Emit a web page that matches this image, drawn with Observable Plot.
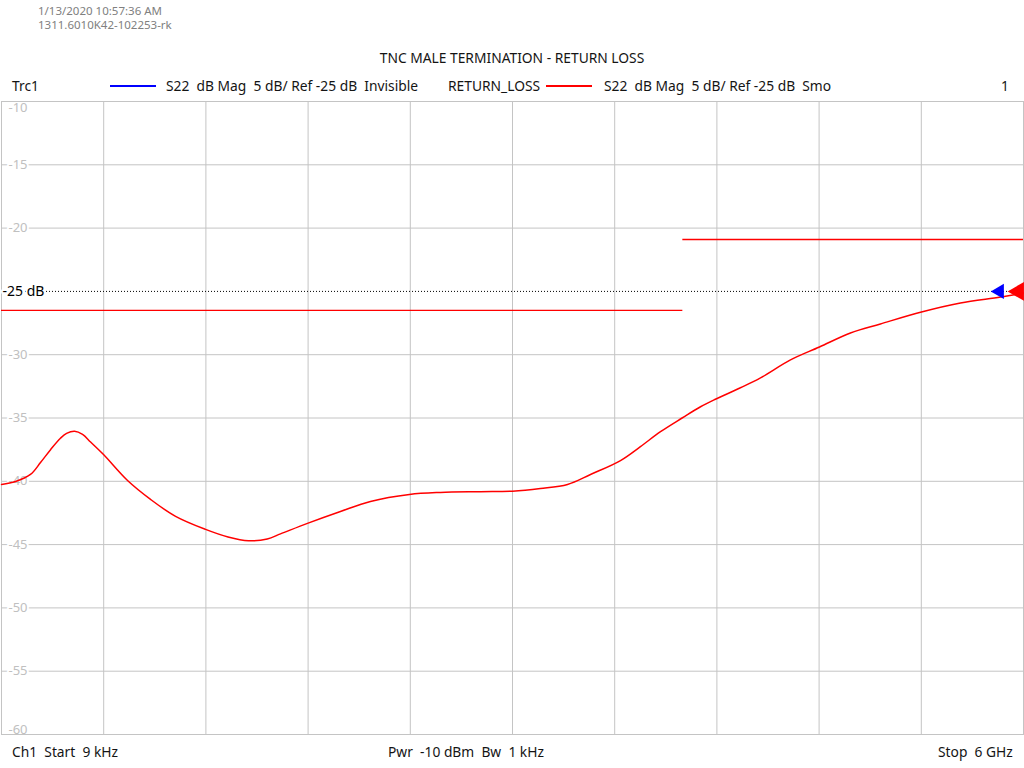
<!DOCTYPE html>
<html>
<head>
<meta charset="utf-8">
<script src="https://cdn.jsdelivr.net/npm/d3@7"></script>
<script src="https://cdn.jsdelivr.net/npm/@observablehq/plot@0.6"></script>
<style>
  html, body { margin: 0; padding: 0; background: #fff; }
  body { width: 1024px; height: 768px; position: relative; overflow: hidden;
         font-family: "Noto Sans", "Open Sans", sans-serif; color: #141414; }
  .t { position: absolute; white-space: pre; line-height: 16px; font-size: 13.8px; }
  .small { font-size: 11.5px; color: #808080; line-height: 14px; }
  .sw { position: absolute; height: 2px; }
  #chart { position: absolute; left: 0; top: 100px; }
</style>
</head>
<body>
<div class="t small" style="left:38px; top:4px">1/13/2020 10:57:36 AM</div>
<div class="t small" style="left:38px; top:18px">1311.6010K42-102253-rk</div>
<div class="t" id="title" style="left:0; width:1024px; text-align:center; top:50px">TNC MALE TERMINATION - RETURN LOSS</div>

<div class="t" style="left:12px; top:78px">Trc1</div>
<div class="sw" style="left:110px; width:46px; top:85px; background:#0000ff"></div>
<div class="t" style="left:166px; top:78px">S22  dB Mag  5 dB/ Ref -25 dB  Invisible</div>
<div class="t" style="left:448px; top:78px">RETURN_LOSS</div>
<div class="sw" style="left:546px; width:46px; top:85px; background:#ff0000"></div>
<div class="t" style="left:604px; top:78px">S22  dB Mag  5 dB/ Ref -25 dB  Smo</div>
<div class="t" style="left:1001px; top:78px">1</div>

<div id="chart"></div>

<div class="t" style="left:12px; top:744px">Ch1  Start  9 kHz</div>
<div class="t" style="left:388px; top:744px">Pwr  -10 dBm  Bw  1 kHz</div>
<div class="t" style="left:938px; top:744px">Stop  6 GHz</div>

<script>
// ---- data ----
const startGHz = 0.000009;
const stopGHz = 6;
const freqGHz = [0.000009, 0.082, 0.170, 0.229, 0.288, 0.346, 0.382, 0.429, 0.476, 0.523, 0.599,
  0.740, 0.875, 1.022, 1.198, 1.330, 1.450, 1.560, 1.638, 1.796, 1.990, 2.166,
  2.395, 2.577, 2.812, 3.000, 3.164, 3.323, 3.458, 3.634, 3.751, 3.869,
  3.998, 4.104, 4.198, 4.338, 4.456, 4.632, 4.802, 4.984, 5.160, 5.401,
  5.630, 5.865, 6.000];
const returnLossDb = [-40.25, -40.02, -39.46, -38.52, -37.50, -36.60, -36.22, -36.05, -36.30, -36.90, -37.89,
  -39.94, -41.43, -42.77, -43.80, -44.40, -44.70, -44.55, -44.15, -43.32, -42.38, -41.59,
  -41.04, -40.88, -40.82, -40.78, -40.57, -40.25, -39.46, -38.36, -37.26, -36.08,
  -34.98, -34.11, -33.48, -32.61, -31.83, -30.41, -29.39, -28.28, -27.57, -26.63,
  -25.92, -25.45, -25.13];
const limitStartGHz = [0.000009, 4];
const limitStopGHz = [4, 6];
const limitDb = [-26.5, -20.9];
const refLevelDb = -25;
const yTicks = [-10, -15, -20, -25, -30, -35, -40, -45, -50, -55, -60];
const xGrid = [0.6, 1.2, 1.8, 2.4, 3.0, 3.6, 4.2, 4.8, 5.4];

// ---- derived tables ----
const trace = freqGHz.map((f, i) => ({f, db: returnLossDb[i]}));
const limits = limitDb.map((db, i) => ({f1: limitStartGHz[i], f2: limitStopGHz[i], db}));
const midTicks = yTicks.filter(d => d !== refLevelDb && d !== yTicks[0] && d !== yTicks[yTicks.length - 1]);
const gridYs = yTicks.filter(d => d !== refLevelDb);
const font = '"Noto Sans", "Open Sans", sans-serif';

const chart = Plot.plot({
  width: 1024,
  height: 635,
  marginTop: 1, marginBottom: 1, marginLeft: 1, marginRight: 1,
  style: {fontFamily: font, background: "white", overflow: "visible"},
  x: {domain: [startGHz, stopGHz], axis: null},
  y: {domain: [-60, -10], axis: null},
  marks: [
    Plot.ruleX(xGrid, {stroke: "#c4c4c4", strokeWidth: 1}),
    Plot.ruleY(gridYs, {stroke: "#c4c4c4", strokeWidth: 1}),
    Plot.ruleY([refLevelDb], {stroke: "black", strokeWidth: 1, strokeDasharray: "1,2"}),
    Plot.frame({stroke: "#c4c4c4", strokeWidth: 1}),
    Plot.ruleY(limits, {y: "db", x1: "f1", x2: "f2", stroke: "#ff0000", strokeWidth: 1.3}),
    Plot.text([yTicks[0]], {x: startGHz, y: d => d, text: d => String(d), textAnchor: "start", lineAnchor: "top",
      dx: 7, dy: 1, fill: "#c0c0c0", fontSize: 13}),
    Plot.text(midTicks, {x: startGHz, y: d => d, text: d => String(d), textAnchor: "start", lineAnchor: "middle",
      dx: 7, fill: "#c0c0c0", stroke: "white", strokeWidth: 4, fontSize: 13}),
    Plot.text([yTicks[yTicks.length - 1]], {x: startGHz, y: d => d, text: d => String(d), textAnchor: "start", lineAnchor: "bottom",
      dx: 7, dy: -1, fill: "#c0c0c0", fontSize: 13}),
    Plot.text([refLevelDb], {x: startGHz, y: d => d, text: d => `${d} dB`, textAnchor: "start", lineAnchor: "middle",
      dx: 1, fill: "#000", stroke: "white", strokeWidth: 4, fontSize: 14}),
    Plot.line(trace, {x: "f", y: "db", stroke: "#ff0000", strokeWidth: 1.5, curve: "catmull-rom"}),
    Plot.dot([refLevelDb], {x: stopGHz, y: d => d, symbol: "triangle", rotate: -90, r: 5.6, fill: "#0000ff", stroke: "none", dx: -24}),
    Plot.dot([refLevelDb], {x: stopGHz, y: d => d, symbol: "triangle", rotate: -90, r: 7, fill: "#ff0000", stroke: "none", dx: -5})
  ]
});
document.getElementById("chart").appendChild(chart);
</script>
</body>
</html>
